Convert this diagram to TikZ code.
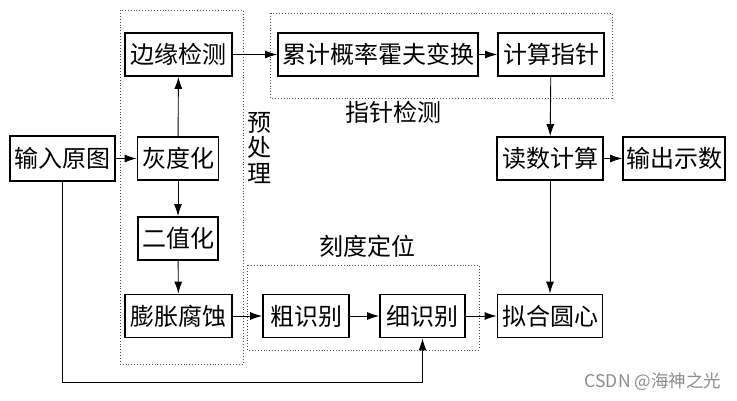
\documentclass[tikz,border=0pt]{standalone}
\usepackage{fontspec}
\setmainfont{Noto Sans CJK SC}
\usetikzlibrary{arrows.meta}
\begin{document}
\begin{tikzpicture}[x=1pt,y=-1pt,
  box/.style={draw, line width=1.8pt, inner sep=0pt, minimum height=43pt, font=\fontsize{24}{28}\selectfont},
  arr/.style={line width=0.9pt, -{Latex[length=12pt,width=8pt]}},
  grp/.style={draw=black!70, dotted, line width=0.9pt},
  lbl/.style={font=\fontsize{24}{28}\selectfont, inner sep=0pt}]
\useasboundingbox (0,0) rectangle (737,400);
% groups
\draw[grp] (120,10) rectangle (243,364);
\draw[grp] (270,13) rectangle (612,98);
\draw[grp] (247,265) rectangle (479,350);
% nodes
\node[box, minimum width=107pt] (edge) at (178.5,54.5) {边缘检测};
\node[box, minimum width=200pt] (hough) at (378,54.5) {累计概率霍夫变换};
\node[box, minimum width=106pt] (ptr) at (551,54.5) {计算指针};
\node[box, minimum width=105pt, minimum height=45pt] (input) at (62.5,158.5) {输入原图};
\node[box, minimum width=81pt] (gray) at (178,158.5) {灰度化};
\node[box, minimum width=80pt] (bin) at (178,238.5) {二值化};
\node[box, minimum width=107pt] (dil) at (178.5,316) {膨胀腐蚀};
\node[box, minimum width=86pt] (coarse) at (306,316) {粗识别};
\node[box, minimum width=85pt] (fine) at (422.5,316) {细识别};
\node[box, minimum width=105pt] (fit) at (550,316) {拟合圆心};
\node[box, minimum width=106pt] (read) at (550,158.5) {读数计算};
\node[box, minimum width=102pt] (out) at (674,158.5) {输出示数};
% labels
\node[lbl] (lptr) at (393,112) {指针检测};
\node[lbl] (lscale) at (367,246) {刻度定位};
\node[lbl, align=center, font=\fontsize{24}{25.5}\selectfont] (lpre) at (259,148) {预\\处\\理};
\node[inner sep=0pt, text=black!45, font=\fontsize{17.5}{20}\selectfont] (wm) at (653,382) {CSDN @海神之光};
% connectors
\draw[arr] (edge) -- (hough);
\draw[arr] (hough) -- (ptr);
\draw[arr] (input) -- (gray);
\draw[arr] (gray) -- (edge);
\draw[arr] (gray) -- (bin);
\draw[arr] (bin) -- (dil);
\draw[arr] (dil) -- (coarse);
\draw[arr] (coarse) -- (fine);
\draw[arr] (fine) -- (fit);
\draw[arr] (ptr) -- (read);
\draw[arr] (read) -- (out);
\draw[arr] (read) -- (fit);
\coordinate (c1) at (62.5,382);
\draw[arr] (input.south) -- (c1) -| (fine.south);
\end{tikzpicture}
\end{document}
